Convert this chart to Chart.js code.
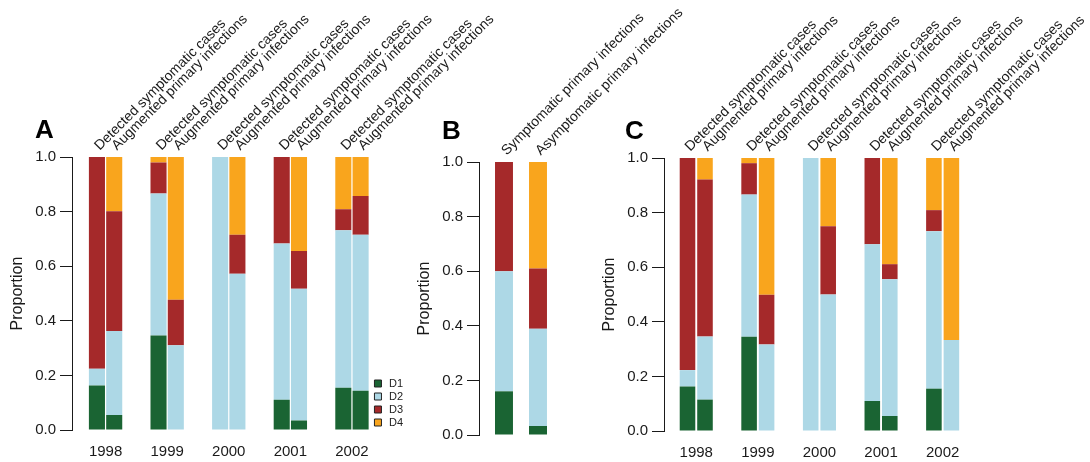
<!DOCTYPE html>
<html><head><meta charset="utf-8">
<script src="https://cdn.jsdelivr.net/npm/chart.js@4.4.0/dist/chart.umd.min.js"></script>
<style>
html,body{margin:0;padding:0;background:#fff;}
#wrap{position:relative;width:1090px;height:462px;overflow:hidden;background:#fff;}
canvas{position:absolute;left:0;top:0;}
.lt{position:absolute;font:bold 26px "Liberation Sans",Arial,Helvetica,sans-serif;line-height:26px;color:#000;}
</style></head><body>
<div id="wrap">
<canvas id="cA" width="1090" height="462"></canvas>
<canvas id="cB" width="1090" height="462"></canvas>
<canvas id="cC" width="1090" height="462"></canvas>
<div class="lt" style="left:35px;top:116px">A</div>
<div class="lt" style="left:442px;top:117px">B</div>
<div class="lt" style="left:625px;top:117px">C</div>
</div>
<script>
// ---------- data ----------
const years = ['1998', '1999', '2000', '2001', '2002'];
const pairLabels = ['Detected symptomatic cases', 'Augmented primary infections'];
const segNames = ['D1', 'D2', 'D3', 'D4'];
const yTicks = [0, 0.2, 0.4, 0.6, 0.8, 1.0];

// Panel A
const aDetD1 = [0.163, 0.346, 0.000, 0.111, 0.155];
const aDetD2 = [0.061, 0.520, 1.000, 0.572, 0.577];
const aDetD3 = [0.776, 0.114, 0.000, 0.317, 0.077];
const aDetD4 = [0.000, 0.020, 0.000, 0.000, 0.191];
const aAugD1 = [0.055, 0.000, 0.000, 0.035, 0.144];
const aAugD2 = [0.308, 0.310, 0.572, 0.482, 0.571];
const aAugD3 = [0.438, 0.167, 0.143, 0.139, 0.142];
const aAugD4 = [0.199, 0.523, 0.285, 0.344, 0.143];

// Panel B
const bLabels = ['Symptomatic primary infections', 'Asymptomatic primary infections'];
const bD1 = [0.160, 0.033];
const bD2 = [0.440, 0.356];
const bD3 = [0.400, 0.221];
const bD4 = [0.000, 0.390];

// Panel C
const cDetD1 = [0.163, 0.345, 0.000, 0.110, 0.155];
const cDetD2 = [0.060, 0.521, 1.000, 0.574, 0.577];
const cDetD3 = [0.777, 0.115, 0.000, 0.316, 0.077];
const cDetD4 = [0.000, 0.019, 0.000, 0.000, 0.191];
const cAugD1 = [0.115, 0.000, 0.000, 0.055, 0.000];
const cAugD2 = [0.231, 0.317, 0.500, 0.501, 0.333];
const cAugD3 = [0.575, 0.182, 0.250, 0.055, 0.000];
const cAugD4 = [0.079, 0.501, 0.250, 0.389, 0.667];

// ---------- style ----------
const segColors = ['#1a6433', '#add8e6', '#a5292a', '#f9a51d'];
const FONT = '"Liberation Sans", Arial, Helvetica, sans-serif';
Chart.defaults.font.family = FONT;
Chart.defaults.color = '#1a1a1a';
Chart.defaults.animation = false;

function yScale(width, titlePad) {
  return {
    type: 'linear', min: 0, max: 1, stacked: true,
    afterBuildTicks: s => { s.ticks = yTicks.map(v => ({value: v})); },
    afterFit: s => { s.width = width; },
    ticks: {font: {size: 15}, color: '#1a1a1a', padding: 4, callback: v => Number(v).toFixed(1)},
    grid: {drawOnChartArea: false, drawTicks: true, tickLength: 12, color: '#1a1a1a', lineWidth: 1},
    border: {display: true, color: '#1a1a1a', width: 1},
    title: {display: true, text: 'Proportion', font: {size: 16}, color: '#1a1a1a', padding: {top: titlePad, bottom: 0}}
  };
}

function makePanel(id, o) {
  const ctx = document.getElementById(id);
  const cfg = {
    type: 'bar',
    data: {datasets: o.datasets},
    options: {
      responsive: false,
      animation: false,
      layout: {padding: o.pad},
      plugins: {
        tooltip: {enabled: false},
        legend: o.legend ? {
          display: true, position: 'right', align: 'end', fullSize: false,
          labels: {
            usePointStyle: true, pointStyle: 'rect',
            boxWidth: 18, boxHeight: 7, padding: 2, font: {size: 11}, color: '#222',
            generateLabels(chart) {
              const items = Chart.defaults.plugins.legend.labels.generateLabels(chart);
              return items.filter(it => it.datasetIndex < 4)
                .map(it => Object.assign(it, {strokeStyle: '#222', lineWidth: 1, pointStyle: 'rect'}));
            }
          }
        } : {display: false}
      },
      scales: {
        x: {
          type: 'linear', position: 'bottom', stacked: true, offset: false,
          min: o.xmin, max: o.xmax,
          afterBuildTicks: s => { s.ticks = o.bottomTicks.map(v => ({value: v})); },
          afterFit: s => { s.height = o.bottomH; },
          ticks: {display: o.bottomLabels.length > 0, autoSkip: false, maxRotation: 0, font: {size: 15}, color: '#1a1a1a', padding: 13,
            callback: (v, i) => o.bottomLabels[i] || ''},
          grid: {display: false, drawTicks: false},
          border: {display: false}
        },
        x2: {
          type: 'linear', position: 'top', offset: false,
          min: o.xmin, max: o.xmax,
          afterBuildTicks: s => { s.ticks = o.topTicks.map(v => ({value: v})); },
          afterFit: s => { s.height = o.topH; s.paddingLeft = 0; s.paddingRight = 0; },
          ticks: {autoSkip: false, minRotation: 45, maxRotation: 45, font: {size: 14}, color: '#1a1a1a', padding: 3, labelOffset: 12,
            callback: (v, i) => o.topLabels[i]},
          grid: {display: false, drawTicks: false},
          border: {display: false}
        },
        y: yScale(o.yW, o.titlePad)
      }
    }
  };
  return new Chart(ctx, cfg);
}

function groupedDatasets(det, aug, cat, bar) {
  const ds = [];
  [['det', det], ['aug', aug]].forEach(([stack, series]) => {
    series.forEach((arr, k) => {
      ds.push({
        label: segNames[k], stack: stack,
        data: arr.map((v, i) => ({x: i, y: v})),
        backgroundColor: segColors[k], borderWidth: 0,
        categoryPercentage: cat, barPercentage: bar
      });
    });
  });
  return ds;
}
function pairTicks(cat) {
  const t = [];
  years.forEach((y, i) => { t.push(i - cat / 4, i + cat / 4); });
  return t;
}
function pairTickLabels() {
  const t = [];
  years.forEach(() => { t.push(pairLabels[0], pairLabels[1]); });
  return t;
}

// Panel A
const catA = 0.561, barA = 0.93;
makePanel('cA', {
  datasets: groupedDatasets([aDetD1, aDetD2, aDetD3, aDetD4], [aAugD1, aAugD2, aAugD3, aAugD4], catA, barA),
  pad: {left: 0, top: 0, right: 677, bottom: 0},
  xmin: -0.545, xmax: 4.300,
  bottomTicks: years.map((y, i) => i), bottomLabels: years,
  topTicks: pairTicks(catA), topLabels: pairTickLabels(),
  topH: 157, bottomH: 32, yW: 72, titlePad: 8, legend: true
});

// Panel B
makePanel('cB', {
  datasets: [bD1, bD2, bD3, bD4].map((arr, k) => ({
    label: segNames[k], stack: 'b',
    data: arr.map((v, i) => ({x: i, y: v})),
    backgroundColor: segColors[k], borderWidth: 0,
    categoryPercentage: 0.8, barPercentage: 0.66
  })),
  pad: {left: 415, top: 0, right: 530, bottom: 0},
  xmin: -0.735, xmax: 1.647,
  bottomTicks: [0, 1], bottomLabels: [],
  topTicks: [0, 1], topLabels: bLabels,
  topH: 162, bottomH: 27, yW: 64, titlePad: 0, legend: false
});

// Panel C
const catC = 0.568, barC = 0.89;
makePanel('cC', {
  datasets: groupedDatasets([cDetD1, cDetD2, cDetD3, cDetD4], [cAugD1, cAugD2, cAugD3, cAugD4], catC, barC),
  pad: {left: 600, top: 0, right: 90, bottom: 0},
  xmin: -0.5235, xmax: 4.931,
  bottomTicks: years.map((y, i) => i), bottomLabels: years,
  topTicks: pairTicks(catC), topLabels: pairTickLabels(),
  topH: 158, bottomH: 31, yW: 64, titlePad: 0, legend: false
});
</script>
</body></html>
